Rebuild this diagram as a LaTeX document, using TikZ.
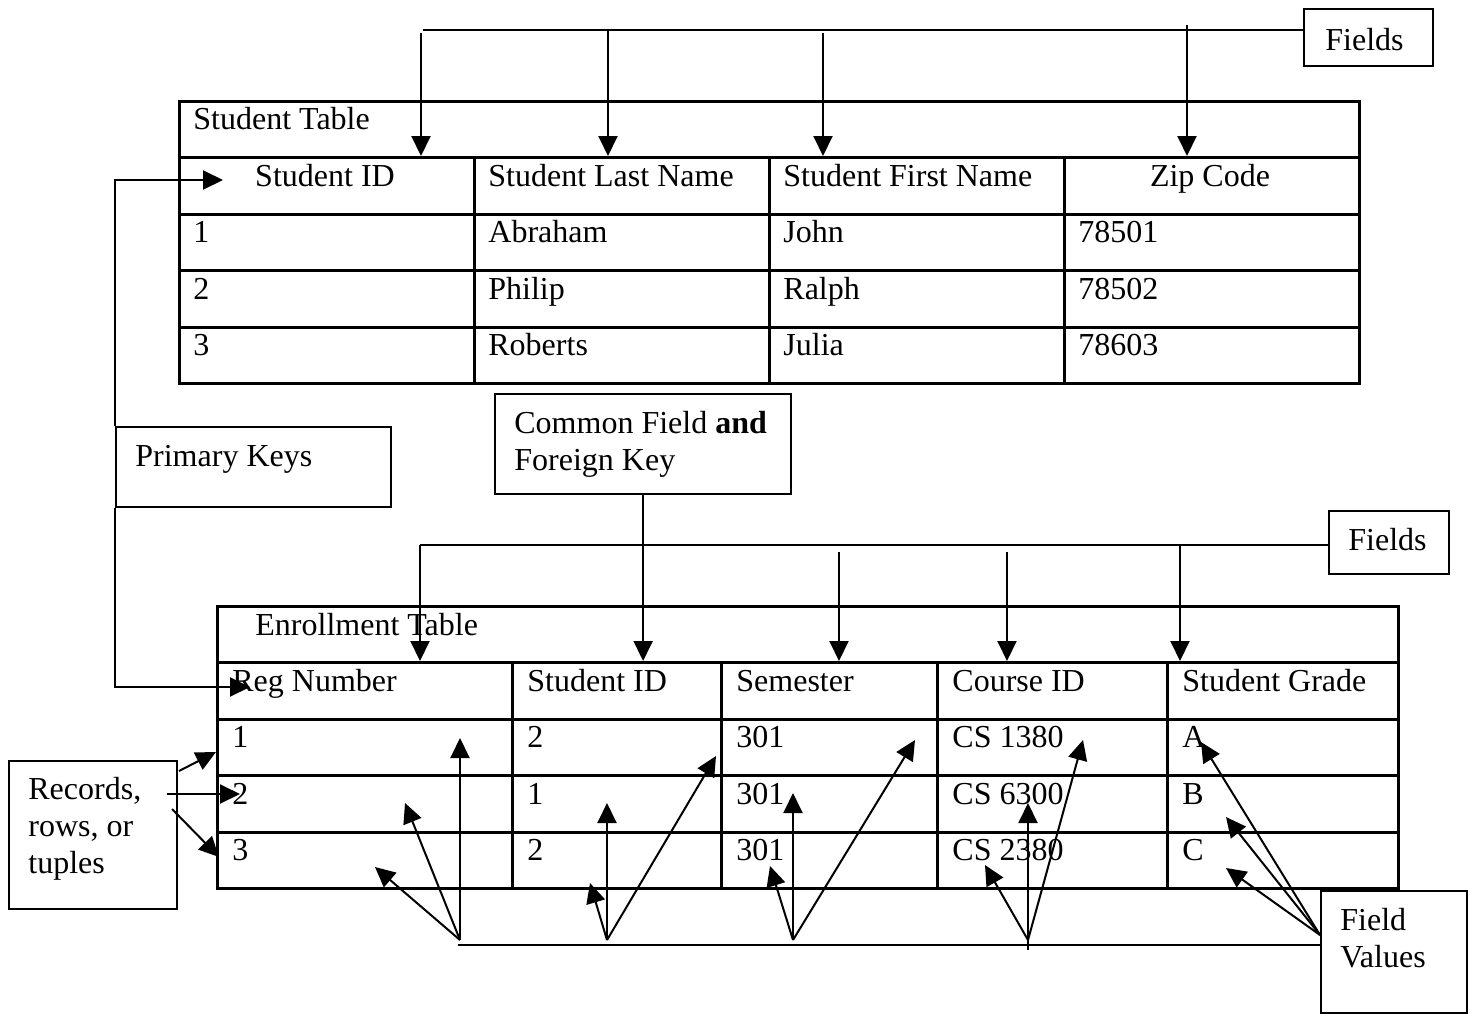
\documentclass[tikz,border=0pt]{standalone}
\usepackage{fontspec}
\setmainfont{Liberation Serif}
\usetikzlibrary{positioning, calc, arrows.meta}

\tikzset{
  cell/.style={draw, line width=1.5pt, anchor=north west, inner sep=0pt,
    minimum height=28.25pt},
  titlecell/.style={cell, minimum height=28pt},
  box/.style={draw, line width=1.1pt, anchor=north west, inner sep=0pt},
  txt/.style={anchor=base west, inner sep=0pt, align=left,
    font=\fontsize{16}{18.4}\selectfont},
  link/.style={line width=1pt},
  pointer/.style={line width=1pt, -{Triangle[length=10pt, width=9.5pt]}},
}

\begin{document}
\begin{tikzpicture}[x=0.5pt, y=-0.5pt]
\useasboundingbox (0,0) rectangle (1468,1013);

% student table
\node[titlecell, minimum width=590pt] (st) at (178,100) {};
\node[txt] (st-name) at (193,129) {Student Table};
\foreach \col/\x in {1/178, 2/473, 3/768, 4/1063}
  \foreach \row in {0,...,3}
    \node[cell, minimum width=147.5pt] (st-\row-\col) at (\x,{156+56.5*\row}) {};
\node[txt, anchor=base] (st-h1) at (325,186) {Student ID};
\node[txt] (st-h2) at (488,186) {Student Last Name};
\node[txt] (st-h3) at (783,186) {Student First Name};
\node[txt, anchor=base] (st-h4) at (1210,186) {Zip Code};
\foreach \row/\va/\vb/\vc/\vd in {1/1/Abraham/John/78501, 2/2/Philip/Ralph/78502,
    3/3/Roberts/Julia/78603} {
  \node[txt] (st-\row-a) at ([shift={(15,30)}]st-\row-1.north west) {\va};
  \node[txt] (st-\row-b) at ([shift={(15,30)}]st-\row-2.north west) {\vb};
  \node[txt] (st-\row-c) at ([shift={(15,30)}]st-\row-3.north west) {\vc};
  \node[txt] (st-\row-d) at ([shift={(15,30)}]st-\row-4.north west) {\vd};
}

% enrollment table
\node[titlecell, minimum width=590.5pt] (en) at (216,605) {};
\node[txt] (en-name) at (255,635) {Enrollment Table};
\foreach \col/\x/\w in {1/216/147.5, 2/511/104.5, 3/720/108, 4/936/115, 5/1166/115.5}
  \foreach \row in {0,...,3}
    \node[cell, minimum width=\w pt] (en-\row-\col) at (\x,{661+56.5*\row}) {};
\foreach \col/\head in {1/Reg Number, 2/Student ID, 3/Semester, 4/Course ID,
    5/Student Grade}
  \node[txt] (en-h\col) at ([shift={(16,30)}]en-0-\col.north west) {\head};
\foreach \row/\va/\vb/\vc/\vd/\ve in {1/1/2/301/CS 1380/A, 2/2/1/301/CS 6300/B,
    3/3/2/301/CS 2380/C} {
  \node[txt] (en-\row-a) at ([shift={(16,30)}]en-\row-1.north west) {\va};
  \node[txt] (en-\row-b) at ([shift={(16,30)}]en-\row-2.north west) {\vb};
  \node[txt] (en-\row-c) at ([shift={(16,30)}]en-\row-3.north west) {\vc};
  \node[txt] (en-\row-d) at ([shift={(16,30)}]en-\row-4.north west) {\vd};
  \node[txt] (en-\row-e) at ([shift={(16,30)}]en-\row-5.north west) {\ve};
}

% labels (base of a block is its last line)
\node[box, minimum width=64.5pt, minimum height=28.5pt] (fields1) at (1303,8) {};
\node[txt] (fields1-t) at (1325,50) {Fields};
\node[box, minimum width=137.5pt, minimum height=40pt] (pk) at (115,426) {};
\node[txt] (pk-t) at (135,466) {Primary Keys};
\node[box, minimum width=148pt, minimum height=50pt] (cf) at (494,393) {};
\node[txt] (cf-t) at (514,470) {Common Field \textbf{and}\\Foreign Key};
\node[box, minimum width=60pt, minimum height=31.5pt] (fields2) at (1328,510) {};
\node[txt] (fields2-t) at (1348,550) {Fields};
\node[box, minimum width=84pt, minimum height=74pt] (rec) at (8,760) {};
\node[txt] (rec-t) at (28,873) {Records,\\rows, or\\tuples};
\node[box, minimum width=73pt, minimum height=61pt] (fv) at (1320,890) {};
\node[txt] (fv-t) at (1340,967) {Field\\Values};

% fields of the student table
\coordinate (bus1) at (423,30);
\draw[link] (bus1) -- (bus1 -| fields1.west);
\foreach \n/\x/\y in {1/421/33, 2/608/30, 3/823/33, 4/1187/25} {
  \coordinate (f1-\n) at (\x,\y);
  \draw[pointer] (f1-\n) -- (f1-\n |- st-0-1.north);
}

% primary keys
\coordinate (pk-st) at (223,180);
\coordinate (pk-en) at (250,687);
\draw[pointer] (pk.north west) |- (pk-st);
\draw[pointer] (pk.south west) |- (pk-en);

% common field
\draw[pointer] (cf.south) -- (cf.south |- en-0-2.north);

% fields of the enrollment table
\coordinate (bus2) at (420,545);
\draw[link] (bus2) -- (bus2 -| fields2.west);
\foreach \n/\x/\y in {1/420/545, 2/839/552, 3/1007/552, 4/1180/545} {
  \coordinate (f2-\n) at (\x,\y);
  \draw[pointer] (f2-\n) -- (f2-\n |- en-0-1.north);
}

% records
\foreach \n/\sx/\sy/\tx/\ty in {1/179/771/216/752, 2/167/794/240/794,
    3/172/809/219/857} {
  \coordinate (rec-s\n) at (\sx,\sy);
  \coordinate (rec-e\n) at (\tx,\ty);
  \draw[pointer] (rec-s\n) -- (rec-e\n);
}

% field values
\coordinate (fv-bus) at (458,945);
\draw[link] (fv-bus) -- (fv-bus -| fv.west);
\foreach \g/\gx/\gy in {1/460/940, 2/607/940, 3/793/940, 4/1028/940, 5/1320/935}
  \coordinate (g\g) at (\gx,\gy);
\draw[link] (g4) -- ++(0,10);
\foreach \g/\n/\tx/\ty in {1/1/460/738, 1/2/405/803, 1/3/375/867,
    2/1/607/803, 2/2/590/883, 2/3/716/756,
    3/1/793/793, 3/2/770/866, 3/3/915/740,
    4/1/1028/803, 4/2/985/865, 4/3/1083/740,
    5/1/1201/742, 5/2/1226/817, 5/3/1226/868} {
  \coordinate (val-\g\n) at (\tx,\ty);
  \draw[pointer] (g\g) -- (val-\g\n);
}
\end{tikzpicture}
\end{document}
